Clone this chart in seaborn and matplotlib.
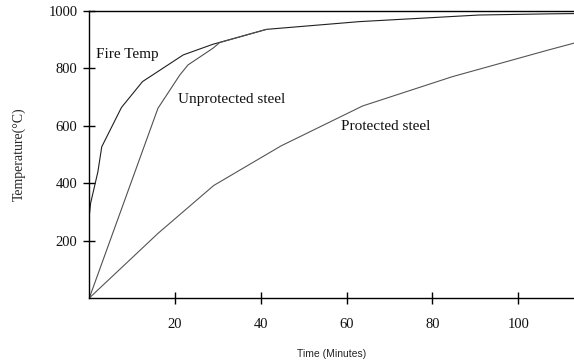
import numpy as np
import pandas as pd
import matplotlib
matplotlib.use("Agg")
import matplotlib.pyplot as plt
import seaborn as sns

# === Data (time in minutes, temperature in degC) ===
fire_time = [0, 0.3, 2.0, 2.9, 7.5, 12.4, 21.9, 28.8, 41.3, 63.0, 90.9, 107.0, 113.0]
fire_temp = [289, 330, 440, 527, 664, 754, 847, 884, 936, 963, 986, 990, 991]

unprot_time = [0, 16.0, 21.1, 23.0, 28.8, 30.4, 41.3]
unprot_temp = [0, 661, 777, 812, 870, 890, 936]

prot_time = [0, 16.0, 29.0, 44.7, 63.7, 84.6, 107.0, 113.0]
prot_temp = [0, 225, 392, 530, 669, 771, 864, 888]

curve_labels = ["Fire Temp", "Unprotected steel", "Protected steel"]
label_pos = [(1.6, 847), (20.7, 693), (58.7, 599)]

x_ticks = [20, 40, 60, 80, 100]
y_ticks = [200, 400, 600, 800, 1000]

# === Style ===
sns.set_style("white")
plt.rcParams["font.family"] = ["Liberation Serif", "DejaVu Serif"]

fig = plt.figure(figsize=(5.74, 3.64), dpi=100)
ax = fig.add_axes([0.1556, 0.1813, 0.8444, 0.7885])

series = [
    (fire_time, fire_temp, "#202020"),
    (unprot_time, unprot_temp, "#505050"),
    (prot_time, prot_temp, "#555555"),
]
for t, temp, col in series:
    df = pd.DataFrame({"t": t, "T": temp})
    sns.lineplot(data=df, x="t", y="T", ax=ax, color=col, linewidth=0.8,
                 sort=False, estimator=None)

for text, (tx, ty) in zip(curve_labels, label_pos):
    ax.text(tx, ty, text, fontsize=11, va="center", ha="left", color="#111111")

ax.set_xlim(0, 113)
ax.set_ylim(0, 1000)
ax.set_xticks(x_ticks)
ax.set_yticks(y_ticks)
ax.tick_params(axis="both", direction="inout", length=9, width=1.0,
               bottom=True, left=True, color="black",
               labelsize=10.5, labelcolor="#111111")
ax.tick_params(axis="x", pad=10)
ax.tick_params(axis="y", pad=4)

for side in ["left", "bottom", "top"]:
    ax.spines[side].set_visible(True)
    ax.spines[side].set_color("black")
    ax.spines[side].set_linewidth(1.0)
ax.spines["right"].set_visible(False)

ax.set_xlabel("Time (Minutes)", fontsize=7.5, family=["Liberation Sans", "DejaVu Sans"],
              labelpad=13)
ax.set_ylabel("Temperature(°C)", fontsize=10, labelpad=16)

plt.savefig("out.png", dpi=100)
plt.close()
